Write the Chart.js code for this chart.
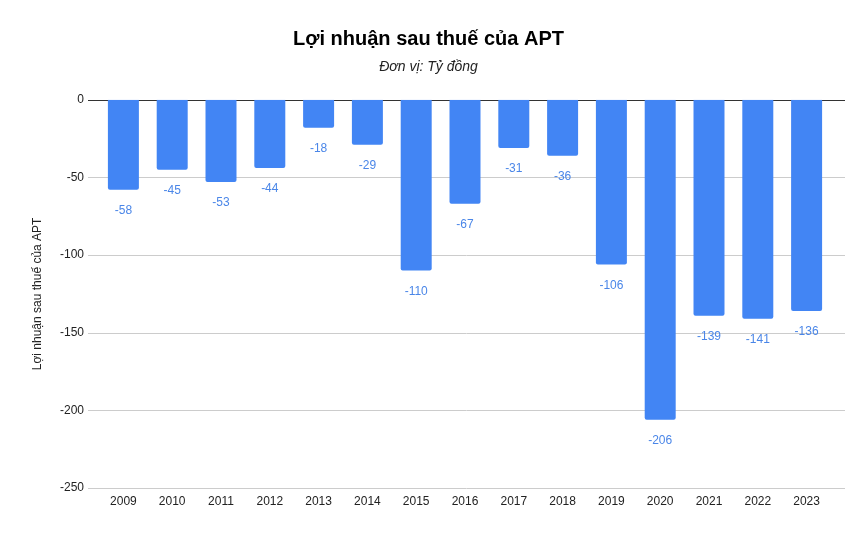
<!DOCTYPE html>
<html lang="vi">
<head>
  <meta charset="UTF-8">
  <title>Lợi nhuận sau thuế của APT</title>
  <script src="https://cdn.jsdelivr.net/npm/chart.js"></script>
  <style>
    html, body { margin: 0; padding: 0; background: #fff; }
    #wrap { width: 866px; height: 535px; }
  </style>
</head>
<body>
  <div id="wrap"><canvas id="chart" width="866" height="535"></canvas></div>
  <script>
    const years = ['2009', '2010', '2011', '2012', '2013', '2014', '2015', '2016', '2017', '2018', '2019', '2020', '2021', '2022', '2023'];
    const profit = [-58, -45, -53, -44, -18, -29, -110, -67, -31, -36, -106, -206, -139, -141, -136];
    const yTicks = [0, -50, -100, -150, -200, -250];

    const FONT = "'Liberation Sans', Arial, sans-serif";

    // lưới ngang kéo dài ra ngoài vùng cột
    const wideGrid = {
      id: 'wideGrid',
      beforeDatasetsDraw(chart) {
        const ctx = chart.ctx;
        const y = chart.scales.y;
        ctx.save();
        ctx.lineWidth = 1;
        yTicks.forEach(v => {
          const py = Math.round(y.getPixelForValue(v)) + 0.5;
          ctx.strokeStyle = v === 0 ? '#333' : '#ccc';
          ctx.beginPath();
          ctx.moveTo(88, py);
          ctx.lineTo(845, py);
          ctx.stroke();
        });
        ctx.restore();
      }
    };

    // nhãn giá trị dưới mỗi cột
    const barLabels = {
      id: 'barLabels',
      afterDatasetsDraw(chart) {
        const ctx = chart.ctx;
        const meta = chart.getDatasetMeta(0);
        ctx.save();
        ctx.font = '12px ' + FONT;
        ctx.fillStyle = '#4a86e8';
        ctx.textAlign = 'center';
        ctx.textBaseline = 'middle';
        meta.data.forEach((bar, i) => {
          ctx.fillText(String(profit[i]), bar.x, bar.y + 21);
        });
        ctx.restore();
      }
    };

    new Chart(document.getElementById('chart'), {
      type: 'bar',
      data: {
        labels: years,
        datasets: [{
          label: 'Lợi nhuận sau thuế của APT',
          data: profit,
          backgroundColor: '#4285f4',
          borderRadius: 2,
          borderSkipped: 'start',
          categoryPercentage: 1,
          barPercentage: 0.635
        }]
      },
      options: {
        responsive: false,
        animation: false,
        layout: { padding: { top: 22, right: 35, bottom: 0, left: 26 } },
        plugins: {
          legend: { display: false },
          tooltip: { enabled: false },
          title: {
            display: true,
            text: 'Lợi nhuận sau thuế của APT',
            color: '#000',
            font: { family: FONT, size: 20, weight: 'bold' },
            padding: { top: 5, bottom: 8 }
          },
          subtitle: {
            display: true,
            text: 'Đơn vị: Tỷ đồng',
            color: '#222',
            font: { family: FONT, size: 14, style: 'italic' },
            padding: { top: 0, bottom: 24 }
          }
        },
        scales: {
          x: {
            grid: { display: false },
            border: { display: false },
            ticks: { color: '#222', font: { family: FONT, size: 12 }, padding: -2, maxRotation: 0 },
            afterFit(scale) { scale.height = 47; }
          },
          y: {
            min: -250,
            max: 0,
            afterBuildTicks(scale) { scale.ticks = yTicks.map(v => ({ value: v })); },
            grid: { display: false, drawTicks: false },
            border: { display: false },
            ticks: { color: '#222', font: { family: FONT, size: 12 }, padding: 15 },
            title: {
              display: true,
              text: 'Lợi nhuận sau thuế của APT',
              color: '#222',
              font: { family: FONT, size: 12 }
            },
            afterFit(scale) { scale.width = 73; }
          }
        }
      },
      plugins: [wideGrid, barLabels]
    });
  </script>
</body>
</html>
